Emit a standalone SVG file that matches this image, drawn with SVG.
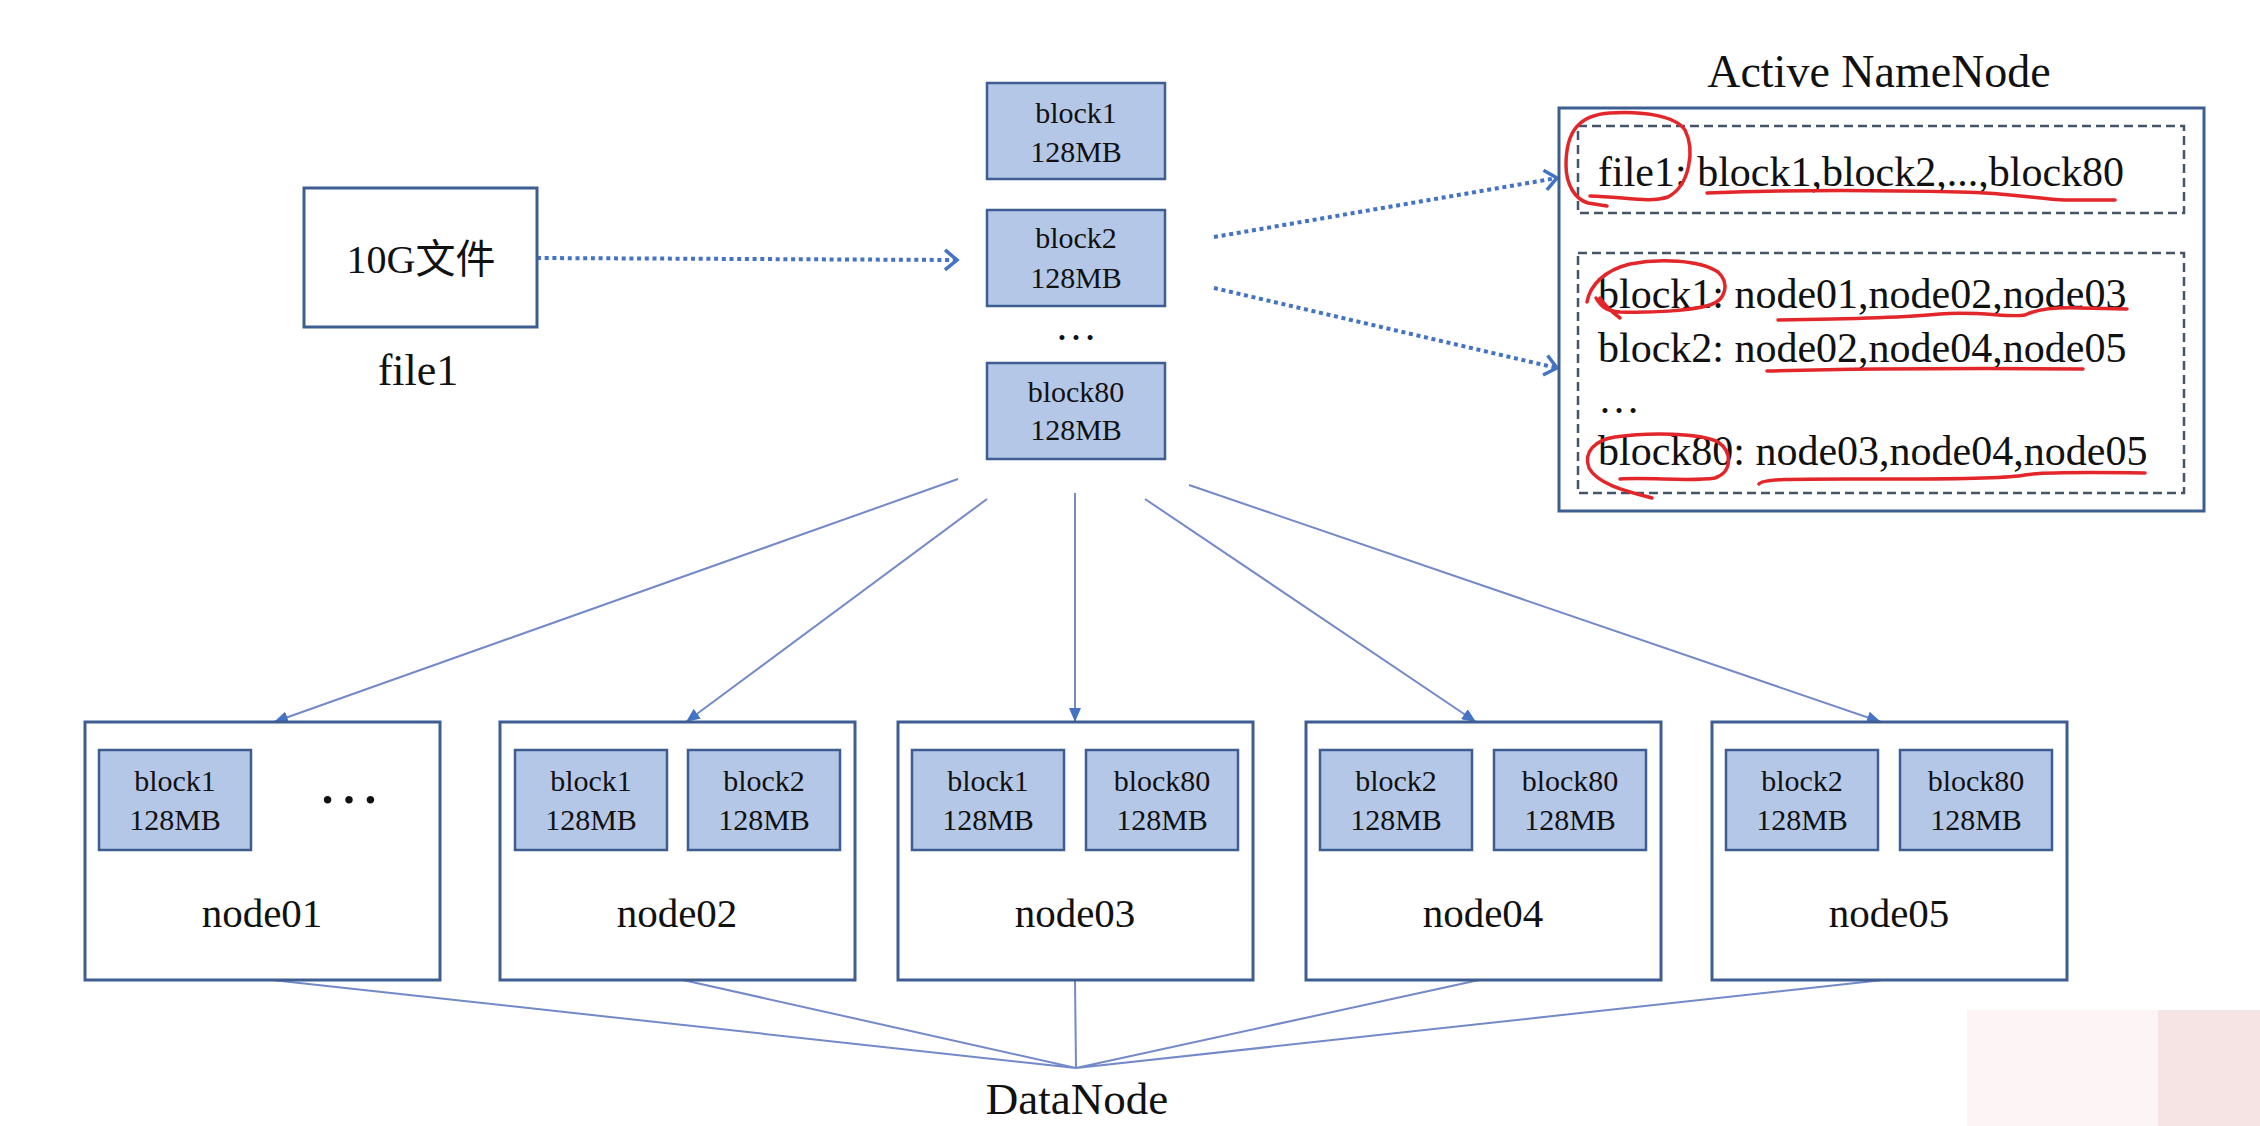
<svg xmlns="http://www.w3.org/2000/svg" width="2260" height="1126" viewBox="0 0 2260 1126">
<style>
  text { font-family: "Liberation Serif", "Noto Sans CJK SC", serif; fill: #111; }
  .box { fill: #ffffff; stroke: #3e5e92; stroke-width: 3; }
  .blk { fill: #b4c7e7; stroke: #3e5e92; stroke-width: 2.5; }
  .dash { fill: none; stroke: #44546a; stroke-width: 2.5; stroke-dasharray: 9 5; }
  .bt { font-size: 30px; text-anchor: middle; }
  .nl { font-size: 41px; text-anchor: middle; }
  .nn { font-size: 42px; }
  .thin { fill: none; stroke: #7389c8; stroke-width: 2; }
  .dot { fill: none; stroke: #4472c4; stroke-width: 4; stroke-dasharray: 4 3.7; }
  .red { fill: none; stroke: #e3262a; stroke-width: 3.5; stroke-linecap: round; stroke-linejoin: round; }
</style>
<defs>
  <marker id="chev" viewBox="0 0 18 26" refX="15" refY="13" markerWidth="18" markerHeight="26" markerUnits="userSpaceOnUse" orient="auto">
    <path d="M3,3 L15,13 L3,23" fill="none" stroke="#4472c4" stroke-width="3.5" stroke-dasharray="none"/>
  </marker>
  <marker id="tri" viewBox="0 0 14 12" refX="14" refY="6" markerWidth="14" markerHeight="12" markerUnits="userSpaceOnUse" orient="auto">
    <path d="M0,0 L14,6 L0,12 z" fill="#4472c4"/>
  </marker>
</defs>
<rect width="2260" height="1126" fill="#ffffff"/>
<rect x="1967" y="1010" width="293" height="116" fill="#fdf5f5"/>
<rect x="2158" y="1010" width="102" height="116" fill="#f6e3e3"/>

<g id="connectors">
  <path class="dot" d="M537,258 L957,260" marker-end="url(#chev)"/>
  <path class="dot" d="M1214,237 L1557,178" marker-end="url(#chev)"/>
  <path class="dot" d="M1214,288 L1557,368" marker-end="url(#chev)"/>
  <path class="thin" d="M958,479 L274,722" marker-end="url(#tri)"/>
  <path class="thin" d="M987,499 L686,722" marker-end="url(#tri)"/>
  <path class="thin" d="M1075,493 L1075,722" marker-end="url(#tri)"/>
  <path class="thin" d="M1145,499 L1476,722" marker-end="url(#tri)"/>
  <path class="thin" d="M1189,485 L1881,722" marker-end="url(#tri)"/>
  <path class="thin" d="M272,980 L1076,1068 M683,980 L1076,1068 M1075,980 L1076,1068 M1479,980 L1076,1068 M1883,980 L1076,1068"/>
</g>

<g id="file-node">
  <rect class="box" x="304" y="188" width="233" height="139"/>
  <text x="421" y="273" font-size="40" text-anchor="middle">10G文件</text>
  <text x="418" y="385" font-size="44" text-anchor="middle">file1</text>
</g>

<g id="blocks">
  <g id="block1">
    <rect class="blk" x="987" y="83" width="178" height="96"/>
    <text class="bt" x="1076" y="123">block1</text>
    <text class="bt" x="1076" y="162">128MB</text>
  </g>
  <g id="block2">
    <rect class="blk" x="987" y="210" width="178" height="96"/>
    <text class="bt" x="1076" y="248">block2</text>
    <text class="bt" x="1076" y="288">128MB</text>
  </g>
  <text x="1076" y="340" font-size="42" text-anchor="middle">…</text>
  <g id="block80">
    <rect class="blk" x="987" y="363" width="178" height="96"/>
    <text class="bt" x="1076" y="402">block80</text>
    <text class="bt" x="1076" y="440">128MB</text>
  </g>
</g>

<g id="namenode">
  <text x="1879" y="87" font-size="46" text-anchor="middle">Active NameNode</text>
  <rect class="box" x="1559" y="108" width="645" height="403"/>
  <rect class="dash" x="1578" y="126" width="606" height="87"/>
  <rect class="dash" x="1578" y="253" width="606" height="240"/>
  <text class="nn" x="1598" y="186">file1: block1,block2,...,block80</text>
  <text class="nn" x="1598" y="308">block1: node01,node02,node03</text>
  <text class="nn" x="1598" y="362">block2: node02,node04,node05</text>
  <text class="nn" x="1598" y="413">…</text>
  <text class="nn" x="1598" y="465">block80: node03,node04,node05</text>
</g>

<g id="annotations">
  <path class="red" d="M1607,206 L1588,203 C1575,199 1566,185 1566,165 C1566,130 1580,115 1610,113 C1640,111 1675,115 1685,130 C1695,150 1690,185 1668,197 C1650,203 1625,197 1590,196"/>
  <path class="red" d="M1707,193 C1780,190 1880,190 1960,192 C2010,193 2040,199 2065,200 L2115,200"/>
  <path class="red" d="M1587,302 C1590,285 1605,270 1630,264 C1660,258 1700,260 1718,272 C1730,283 1726,300 1710,305 C1690,311 1650,313 1620,312 C1605,311 1600,305 1596,298 M1600,298 C1605,306 1612,312 1620,318"/>
  <path class="red" d="M1778,320 C1850,319 1900,318 1940,314 C1980,311 2010,318 2025,315 C2035,310 2050,307 2080,308 L2127,309"/>
  <path class="red" d="M1767,371 C1850,369 1950,368 2083,369"/>
  <path class="red" d="M1652,498 C1630,492 1598,485 1589,468 C1583,452 1595,440 1615,437 C1650,432 1700,433 1718,442 C1733,452 1732,472 1715,478 C1690,482 1650,477 1620,479"/>
  <path class="red" d="M1759,484 C1762,478 1800,479 1897,479 C1960,479 2010,478 2025,475 C2040,472 2080,472 2145,473"/>
</g>

<g id="node01">
  <rect class="box" x="85" y="722" width="355" height="258"/>
  <rect class="blk" x="99" y="750" width="152" height="100"/>
  <text class="bt" x="175" y="791">block1</text>
  <text class="bt" x="175" y="830">128MB</text>
  <text x="349" y="803" font-size="64" text-anchor="middle">…</text>
  <text class="nl" x="262" y="927">node01</text>
</g>
<g id="node02">
  <rect class="box" x="500" y="722" width="355" height="258"/>
  <rect class="blk" x="515" y="750" width="152" height="100"/>
  <text class="bt" x="591" y="791">block1</text>
  <text class="bt" x="591" y="830">128MB</text>
  <rect class="blk" x="688" y="750" width="152" height="100"/>
  <text class="bt" x="764" y="791">block2</text>
  <text class="bt" x="764" y="830">128MB</text>
  <text class="nl" x="677" y="927">node02</text>
</g>
<g id="node03">
  <rect class="box" x="898" y="722" width="355" height="258"/>
  <rect class="blk" x="912" y="750" width="152" height="100"/>
  <text class="bt" x="988" y="791">block1</text>
  <text class="bt" x="988" y="830">128MB</text>
  <rect class="blk" x="1086" y="750" width="152" height="100"/>
  <text class="bt" x="1162" y="791">block80</text>
  <text class="bt" x="1162" y="830">128MB</text>
  <text class="nl" x="1075" y="927">node03</text>
</g>
<g id="node04">
  <rect class="box" x="1306" y="722" width="355" height="258"/>
  <rect class="blk" x="1320" y="750" width="152" height="100"/>
  <text class="bt" x="1396" y="791">block2</text>
  <text class="bt" x="1396" y="830">128MB</text>
  <rect class="blk" x="1494" y="750" width="152" height="100"/>
  <text class="bt" x="1570" y="791">block80</text>
  <text class="bt" x="1570" y="830">128MB</text>
  <text class="nl" x="1483" y="927">node04</text>
</g>
<g id="node05">
  <rect class="box" x="1712" y="722" width="355" height="258"/>
  <rect class="blk" x="1726" y="750" width="152" height="100"/>
  <text class="bt" x="1802" y="791">block2</text>
  <text class="bt" x="1802" y="830">128MB</text>
  <rect class="blk" x="1900" y="750" width="152" height="100"/>
  <text class="bt" x="1976" y="791">block80</text>
  <text class="bt" x="1976" y="830">128MB</text>
  <text class="nl" x="1889" y="927">node05</text>
</g>

<g id="datanode">
  <text x="1077" y="1114" font-size="45" text-anchor="middle">DataNode</text>
</g>
</svg>
